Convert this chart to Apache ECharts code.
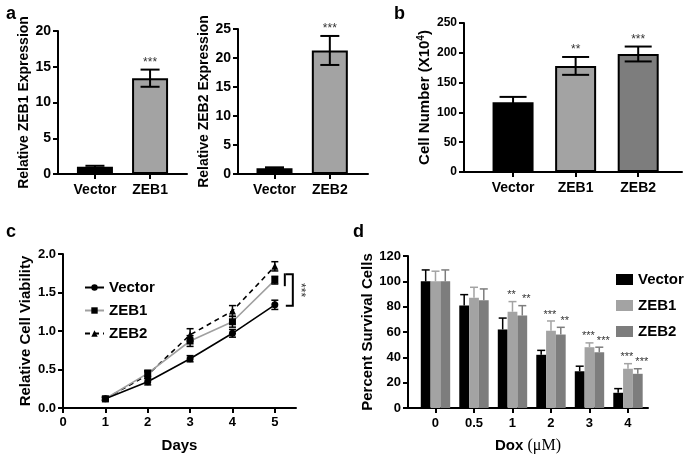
<!DOCTYPE html>
<html><head><meta charset="utf-8">
<script src="https://cdn.jsdelivr.net/npm/echarts@6/dist/echarts.min.js"></script>
<style>html,body{margin:0;padding:0;background:#fff}#c{width:685px;height:455px}</style>
</head><body><div id="c"></div>
<script>
// ---- Panel a ----
const aCats1 = ['Vector', 'ZEB1'];
const aMean1 = [1.0, 13.4];
const aErr1 = [0.15, 1.2];
const aStars1 = ['', '***'];
const aCats2 = ['Vector', 'ZEB2'];
const aMean2 = [1.0, 21.3];
const aErr2 = [0.15, 2.5];
const aStars2 = ['', '***'];
// ---- Panel b ----
const bCats = ['Vector', 'ZEB1', 'ZEB2'];
const bMean = [117, 178, 198];
const bErr = [9, 15, 12.5];
const bStars = ['', '**', '***'];
// ---- Panel c ----
const cDays = [1, 2, 3, 4, 5];
const cVector = [0.12, 0.34, 0.64, 0.97, 1.34];
const cVectorErr = [0.02, 0.04, 0.04, 0.05, 0.06];
const cZEB1 = [0.12, 0.45, 0.87, 1.12, 1.66];
const cZEB1Err = [0.02, 0.04, 0.07, 0.07, 0.05];
const cZEB2 = [0.12, 0.43, 0.95, 1.26, 1.84];
const cZEB2Err = [0.02, 0.04, 0.08, 0.07, 0.06];
const cXTicks = [0, 1, 2, 3, 4, 5];
// ---- Panel d ----
const dDoses = ['0', '0.5', '1', '2', '3', '4'];
const dVector = [100, 81, 62, 42, 29, 12];
const dVectorErr = [9, 8.5, 9, 3.5, 4, 3.3];
const dZEB1 = [100, 87, 76, 61, 48, 31];
const dZEB1Err = [8, 8.3, 8, 7.7, 3.4, 4];
const dZEB2 = [100, 85, 73, 58, 44, 27];
const dZEB2Err = [9, 9, 7.8, 5.7, 4, 4];
const dStarsZEB1 = ['', '', '**', '***', '***', '***'];
const dStarsZEB2 = ['', '', '**', '**', '***', '***'];

const FONT = '"Liberation Sans", Arial, Helvetica, sans-serif';
const BLACK = '#000';
const LIGHT = '#a3a3a3';
const DARK = '#7d7d7d';

const axLine = { show: true, onZero: false, lineStyle: { color: BLACK, width: 2 } };
const tickStyle = { color: BLACK, width: 2 };

function yAx(gi, min, max, interval, name, nameGap, nameSize, labelSize, fmt, rich) {
  return {
    type: 'value', gridIndex: gi, min: min, max: max, interval: interval,
    name: name, nameLocation: 'middle', nameGap: nameGap,
    nameTextStyle: Object.assign({ fontFamily: FONT, fontWeight: 'bold', fontSize: nameSize, color: BLACK }, rich ? { rich: rich } : {}),
    axisLine: axLine,
    axisTick: { show: true, length: 5, lineStyle: tickStyle },
    axisLabel: { color: BLACK, fontFamily: FONT, fontWeight: 'bold', fontSize: labelSize, margin: 7, formatter: fmt },
    splitLine: { show: false }
  };
}
function xCat(gi, min, max, cats, labelSize) {
  const vals = cats.map((_, i) => i);
  return {
    type: 'value', gridIndex: gi, min: min, max: max,
    axisLine: axLine,
    axisTick: { show: true, length: 5, lineStyle: tickStyle, customValues: vals },
    axisLabel: { customValues: vals, color: BLACK, fontFamily: FONT, fontWeight: 'bold', fontSize: labelSize, margin: 9,
      formatter: v => cats[Math.round(v)] },
    splitLine: { show: false }
  };
}

function errSeries(gi, means, errs, opt) {
  return {
    type: 'custom', xAxisIndex: gi, yAxisIndex: gi, z: 5, silent: true,
    data: means.map((m, i) => [opt.xs ? opt.xs[i] : i, m, errs[i]]),
    renderItem: function (params, api) {
      const x = api.value(0), m = api.value(1), e = api.value(2);
      const top = api.coord([x, m + e]);
      const bot = api.coord([x, opt.upOnly ? m : m - e]);
      const cx = top[0] + (opt.offset || 0);
      const st = { stroke: opt.color, lineWidth: opt.lw };
      const ch = [
        { type: 'line', shape: { x1: cx, y1: top[1], x2: cx, y2: bot[1] }, style: st },
        { type: 'line', shape: { x1: cx - opt.cap / 2, y1: top[1], x2: cx + opt.cap / 2, y2: top[1] }, style: st }
      ];
      if (!opt.upOnly) ch.push({ type: 'line', shape: { x1: cx - opt.cap / 2, y1: bot[1], x2: cx + opt.cap / 2, y2: bot[1] }, style: st });
      const s = opt.stars ? opt.stars[params.dataIndex] : '';
      if (s) ch.push({ type: 'text', x: cx + (opt.starShift || 0), y: top[1] - 1,
        style: { text: s, align: 'center', verticalAlign: 'bottom', fontSize: opt.starSize || 12, fontFamily: FONT, fill: '#333' } });
      return { type: 'group', children: ch };
    }
  };
}

function barSeries(gi, means, colors, width) {
  return {
    type: 'bar', xAxisIndex: gi, yAxisIndex: gi, barWidth: width, silent: true,
    data: means.map((m, i) => ({ value: [i, m], itemStyle: { color: colors[i], borderColor: BLACK, borderWidth: 2 } }))
  };
}

const cPairs = arr => cDays.map((d, i) => [d, arr[i]]);
const dPairs = arr => arr.map((v, i) => [i, v]);

const option = {
  animation: false,
  backgroundColor: '#fff',
  title: [
    { text: 'a', left: 1, top: 0, textStyle: { fontFamily: FONT, fontWeight: 'bold', fontSize: 18, color: BLACK } },
    { text: 'b', left: 389, top: 0, textStyle: { fontFamily: FONT, fontWeight: 'bold', fontSize: 18, color: BLACK } },
    { text: 'c', left: 1, top: 218, textStyle: { fontFamily: FONT, fontWeight: 'bold', fontSize: 18, color: BLACK } },
    { text: 'd', left: 348, top: 218, textStyle: { fontFamily: FONT, fontWeight: 'bold', fontSize: 18, color: BLACK } }
  ],
  grid: [
    { left: 58, top: 31, width: 129, height: 143 },
    { left: 238, top: 29, width: 130, height: 145 },
    { left: 464, top: 23, width: 218, height: 149 },
    { left: 63, top: 254, width: 233, height: 154 },
    { left: 408, top: 256, width: 240, height: 153 }
  ],
  legend: [
    { data: ['Vector', 'ZEB1', 'ZEB2'], orient: 'vertical', left: 79, top: 275, itemWidth: 19, itemHeight: 8, itemGap: 8,
      textStyle: { fontFamily: FONT, fontWeight: 'bold', fontSize: 15, color: BLACK } },
    { data: ['d-Vector', 'd-ZEB1', 'd-ZEB2'], orient: 'vertical', left: 611, top: 267, icon: 'rect', itemWidth: 17, itemHeight: 11, itemGap: 11,
      formatter: n => n.replace('d-', ''),
      textStyle: { fontFamily: FONT, fontWeight: 'bold', fontSize: 15, color: BLACK } }
  ],
  xAxis: [
    xCat(0, -0.67, 1.67, aCats1, 14),
    xCat(1, -0.66, 1.69, aCats2, 14),
    xCat(2, -0.784, 2.70, bCats, 14),
    { type: 'value', gridIndex: 3, min: 0, max: 5.5,
      name: 'Days', nameLocation: 'middle', nameGap: 30,
      nameTextStyle: { fontFamily: FONT, fontWeight: 'bold', fontSize: 15, color: BLACK },
      axisLine: axLine,
      axisTick: { show: true, length: 5, lineStyle: tickStyle, customValues: cXTicks },
      axisLabel: { customValues: cXTicks, color: BLACK, fontFamily: FONT, fontWeight: 'bold', fontSize: 13, margin: 8 },
      splitLine: { show: false } },
    Object.assign(xCat(4, -0.714, 5.52, dDoses, 13), {
      name: '{s|Dox }{m|(μM)}', nameLocation: 'middle', nameGap: 30,
      nameTextStyle: { rich: {
        s: { fontFamily: FONT, fontWeight: 'bold', fontSize: 15, color: BLACK },
        m: { fontFamily: '"Liberation Serif", "DejaVu Serif", serif', fontSize: 16, color: BLACK }
      } } })
  ],
  yAxis: [
    yAx(0, 0, 20, 5, 'Relative ZEB1 Expression', 25, 14, 14),
    yAx(1, 0, 25, 5, 'Relative ZEB2 Expression', 24, 14, 14),
    yAx(2, 0, 250, 50, '{n|Cell Number (X10}{sup|4}{n|)}', 30, 15, 12, undefined, {
      n: { fontFamily: FONT, fontWeight: 'bold', fontSize: 15, color: BLACK, lineHeight: 18 },
      sup: { fontFamily: FONT, fontWeight: 'bold', fontSize: 10, color: BLACK, lineHeight: 10, verticalAlign: 'top' }
    }),
    yAx(3, 0, 2, 0.5, 'Relative Cell Viability', 30, 15, 13, v => v.toFixed(1)),
    yAx(4, 0, 120, 20, 'Percent Survival Cells', 30, 15, 13)
  ],
  series: [
    // Panel a
    barSeries(0, aMean1, [BLACK, LIGHT], 36),
    errSeries(0, aMean1, aErr1, { color: BLACK, lw: 2, cap: 19, stars: aStars1 }),
    barSeries(1, aMean2, [BLACK, LIGHT], 36),
    errSeries(1, aMean2, aErr2, { color: BLACK, lw: 2, cap: 19, stars: aStars2 }),
    // Panel b
    barSeries(2, bMean, [BLACK, LIGHT, DARK], 41),
    errSeries(2, bMean, bErr, { color: BLACK, lw: 2, cap: 27, stars: bStars }),
    // Panel c
    { name: 'Vector', type: 'line', xAxisIndex: 3, yAxisIndex: 3, data: cPairs(cVector), symbol: 'circle', symbolSize: 7,
      itemStyle: { color: BLACK }, lineStyle: { color: BLACK, width: 1.6 }, z: 4 },
    { name: 'ZEB1', type: 'line', xAxisIndex: 3, yAxisIndex: 3, data: cPairs(cZEB1), symbol: 'rect', symbolSize: 7,
      itemStyle: { color: BLACK }, lineStyle: { color: '#a0a0a0', width: 1.6 }, z: 3 },
    { name: 'ZEB2', type: 'line', xAxisIndex: 3, yAxisIndex: 3, data: cPairs(cZEB2), symbol: 'triangle', symbolSize: 7,
      itemStyle: { color: BLACK }, lineStyle: { color: BLACK, width: 1.6, type: [5, 4] }, z: 2 },
    errSeries(3, cVector, cVectorErr, { xs: cDays, color: BLACK, lw: 1.5, cap: 7 }),
    errSeries(3, cZEB1, cZEB1Err, { xs: cDays, color: BLACK, lw: 1.5, cap: 7 }),
    errSeries(3, cZEB2, cZEB2Err, { xs: cDays, color: BLACK, lw: 1.5, cap: 7 }),
    { type: 'custom', xAxisIndex: 3, yAxisIndex: 3, silent: true, z: 6,
      data: [[cDays[4], cVector[4], cZEB1[4], cZEB2[4]]],
      renderItem: function (params, api) {
        const x = api.value(0);
        const pV = api.coord([x, api.value(1)]);
        const p1 = api.coord([x, api.value(2)]);
        const p2 = api.coord([x, api.value(3)]);
        const st = { stroke: BLACK, lineWidth: 2 };
        const x0 = pV[0];
        const topY = p2[1] + 8, botY = pV[1] + 1;
        return { type: 'group', children: [
          { type: 'line', shape: { x1: x0 + 10, y1: p2[1] + 7, x2: x0 + 10, y2: p1[1] + 6 }, style: st },
          { type: 'polyline', shape: { points: [[x0 + 11, topY], [x0 + 18, topY], [x0 + 18, botY], [x0 + 11, botY]] }, style: Object.assign({ fill: null }, st) },
          { type: 'text', x: x0 + 25, y: (topY + botY) / 2, rotation: -Math.PI / 2,
            style: { text: '***', align: 'center', verticalAlign: 'middle', fontSize: 12, fontFamily: FONT, fill: '#333' } }
        ] };
      } },
    // Panel d
    { name: 'd-Vector', type: 'bar', xAxisIndex: 4, yAxisIndex: 4, data: dPairs(dVector), barWidth: 9.8, barGap: '0%', itemStyle: { color: BLACK } },
    { name: 'd-ZEB1', type: 'bar', xAxisIndex: 4, yAxisIndex: 4, data: dPairs(dZEB1), barWidth: 9.8, barGap: '0%', itemStyle: { color: LIGHT } },
    { name: 'd-ZEB2', type: 'bar', xAxisIndex: 4, yAxisIndex: 4, data: dPairs(dZEB2), barWidth: 9.8, barGap: '0%', itemStyle: { color: DARK } },
    errSeries(4, dVector, dVectorErr, { color: BLACK, lw: 1.5, cap: 8, upOnly: true, offset: -9.8 }),
    errSeries(4, dZEB1, dZEB1Err, { color: LIGHT, lw: 1.5, cap: 8, upOnly: true, offset: 0, stars: dStarsZEB1, starShift: -1, starSize: 11 }),
    errSeries(4, dZEB2, dZEB2Err, { color: DARK, lw: 1.5, cap: 8, upOnly: true, offset: 9.8, stars: dStarsZEB2, starShift: 4, starSize: 11 })
  ]
};
const chart = echarts.init(document.getElementById('c'));
chart.setOption(option);
</script>
</body></html>
